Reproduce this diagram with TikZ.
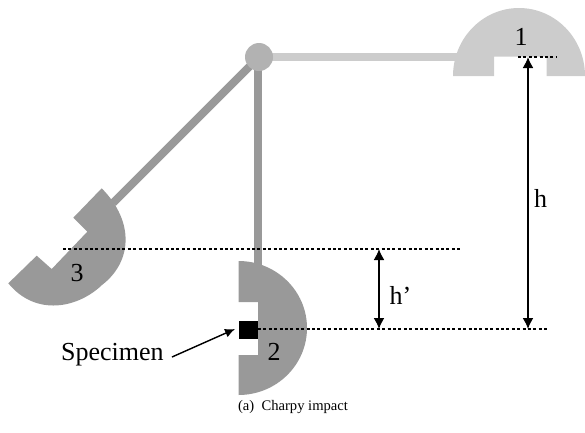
\documentclass[tikz,border=0pt]{standalone}
\usepackage{fontspec}
\setmainfont{Liberation Serif}
\usetikzlibrary{arrows.meta}
\definecolor{lightg}{gray}{0.80}
\definecolor{darkg}{gray}{0.60}
\definecolor{pivotg}{gray}{0.70}
\tikzset{
 guide/.style={black,line width=1.1pt,dash pattern=on 3pt off 2.4pt},
 measure/.style={black,line width=1.7pt,{Latex[length=11pt,width=11pt]}-{Latex[length=11pt,width=11pt]}},
 rodlight/.style={lightg,line width=8pt},
 roddark/.style={darkg,line width=8pt},
 lbl/.style={inner sep=0pt,font=\fontsize{26}{28}\selectfont}
}
\begin{document}
\begin{tikzpicture}[x=1pt,y=-1pt]
\useasboundingbox (0,0) rectangle (585,432);
\coordinate (piv) at (259,57);
\coordinate (pv2) at (258,57);
\coordinate (r1) at (460,57);
\coordinate (r2) at (258,265);
\coordinate (r3) at (113,203);
\draw[rodlight] (piv) -- (r1);
\draw[roddark] (pv2) -- (r2);
\draw[roddark] (piv) -- (r3);
% hammer 1
\fill[lightg] (453,76) arc[start angle=180,end angle=0,x radius=66,y radius=-68] -- (546.7,76) -- (546.7,56.7) -- (494,56.7) -- (494,76) -- cycle;
% hammer 2
\fill[darkg] (238.5,261) arc[start angle=90,end angle=-90,x radius=68.5,y radius=-67] -- (238.5,355) -- (258,355) -- (258,302) -- (238.5,302) -- cycle;
% hammer 3
\fill[darkg] (101.7,188.3) .. controls (135,222) and (132,262) .. (102,285) .. controls (78,308) and (36,317) .. (8.3,283.3) -- (36.7,255.7) -- (51.7,269) -- (87.3,231.7) -- (73.3,217.7) -- cycle;
\fill[pivotg] (piv) circle[radius=14];
\fill[black] (239,321) rectangle (258,339);
% guides
\coordinate (g1a) at (518,57); \coordinate (g1b) at (557,57);
\coordinate (g2a) at (63,249); \coordinate (g2b) at (460,249);
\coordinate (g3a) at (258,329); \coordinate (g3b) at (549,329);
\draw[guide] (g1a) -- (g1b);
\draw[guide] (g2a) -- (g2b);
\draw[guide] (g3a) -- (g3b);
\coordinate (ha) at (528,57); \coordinate (hb) at (528,329);
\coordinate (pa) at (379,249); \coordinate (pb) at (379,329);
\draw[measure] (ha) -- (hb);
\draw[measure] (pa) -- (pb);
\node[lbl] (n1) at (521,37) {1};
\node[lbl] (n2) at (274,352) {2};
\node[lbl] (n3) at (77,273) {3};
\node[lbl] (h) at (540.5,198) {h};
\node[lbl] (hp) at (400.5,295) {h’};
\node[lbl,anchor=base west] (spec) at (61,360.5) {Specimen};
\coordinate (sa) at (172,357);
\coordinate (st) at (235,329);
\draw[black,line width=1.4pt,-{Latex[length=10pt,width=9pt]}] (sa) -- (st);
\node[inner sep=0pt,font=\fontsize{14.6}{16}\selectfont] (cap) at (293,407) {(a)\ \ Charpy impact};
\end{tikzpicture}
\end{document}
